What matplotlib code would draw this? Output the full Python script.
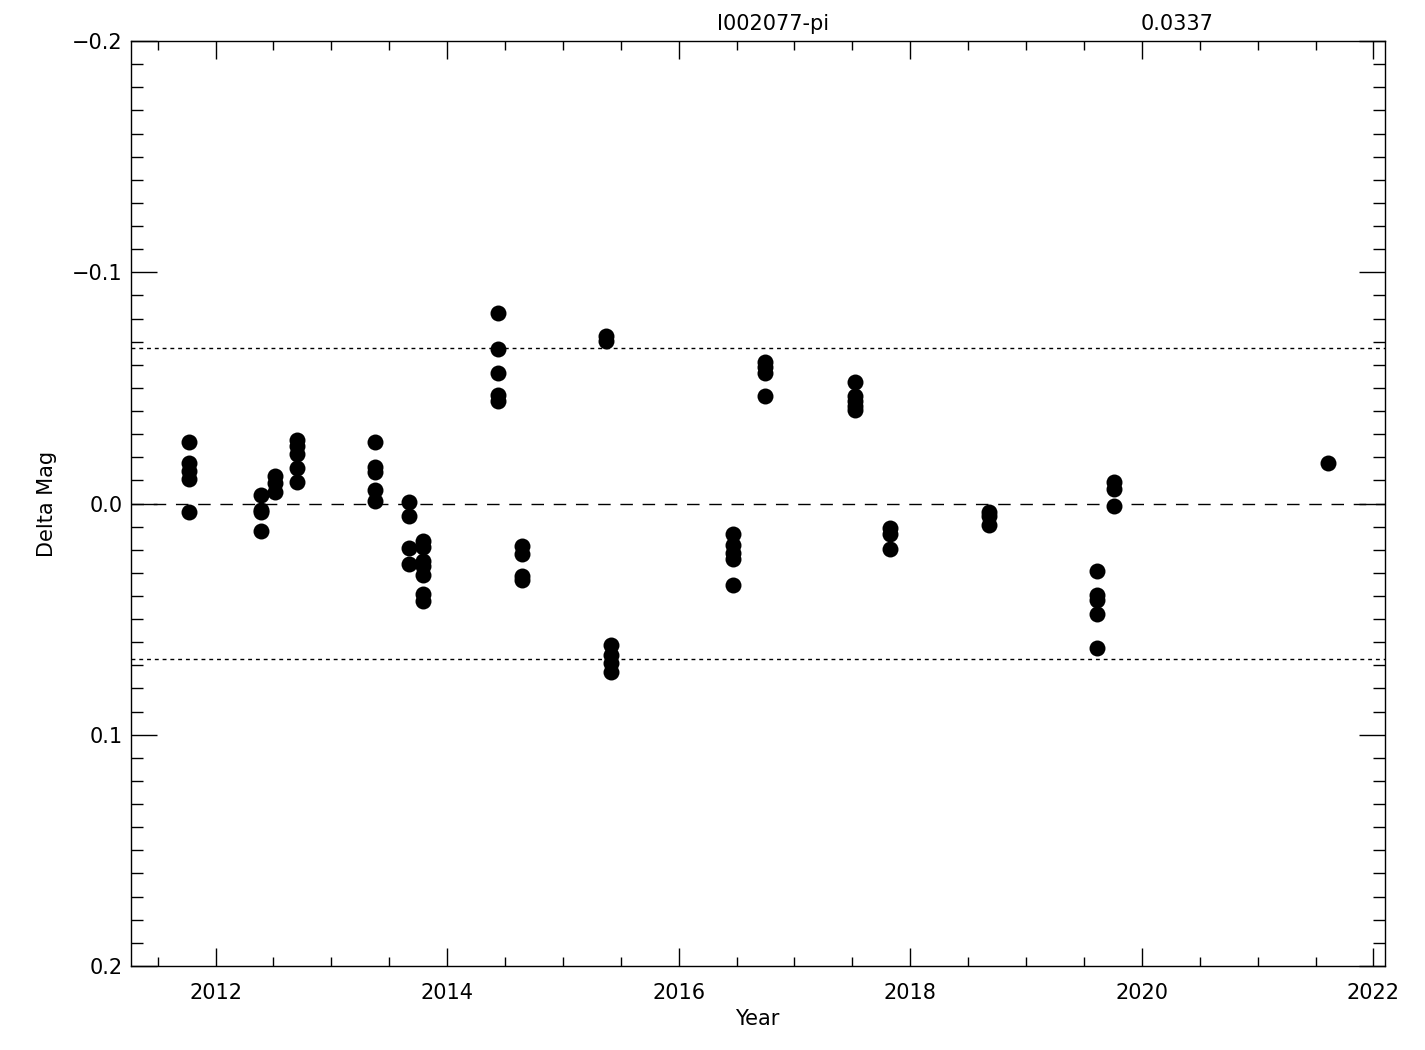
import numpy as np
import matplotlib
matplotlib.use('Agg')
import matplotlib.pyplot as plt
from matplotlib.ticker import MultipleLocator

# observing epochs (decimal year) and delta mags per epoch
epochs = [2011.771, 2012.393, 2012.514, 2012.700, 2013.378, 2013.674, 2013.793,
          2014.441, 2014.648, 2015.374, 2015.413, 2016.473, 2016.747, 2017.525,
          2017.821, 2018.676, 2019.613, 2019.756, 2021.609]
dmags = [
    [-0.0264, -0.0173, -0.0139, -0.0104, 0.0035],
    [-0.0035, 0.0026, 0.0035, 0.0120],
    [-0.0120, -0.0090, -0.0050],
    [-0.0273, -0.0247, -0.0212, -0.0152, -0.0091],
    [-0.0265, -0.0156, -0.0135, -0.0060, -0.0009],
    [-0.0008, 0.0052, 0.0192, 0.0260],
    [0.0160, 0.0190, 0.0250, 0.0270, 0.0310, 0.0390, 0.0420],
    [-0.0823, -0.0667, -0.0566, -0.0468, -0.0443],
    [0.0182, 0.0220, 0.0315, 0.0330],
    [-0.0724, -0.0703],
    [0.0610, 0.0654, 0.0688, 0.0727],
    [0.0134, 0.0178, 0.0212, 0.0238, 0.0351],
    [-0.0610, -0.0589, -0.0563, -0.0465],
    [-0.0525, -0.0463, -0.0442, -0.0420, -0.0403],
    [0.0104, 0.0134, 0.0195],
    [0.0035, 0.0052, 0.0095],
    [0.0293, 0.0394, 0.0416, 0.0476, 0.0623],
    [-0.0092, -0.0061, 0.0009],
    [-0.0176],
]
star = 'I002077-pi'
sigma = 0.0337

x = np.concatenate([[e]*len(d) for e, d in zip(epochs, dmags)])
y = np.concatenate(dmags)

plt.rcParams['font.family'] = 'DejaVu Sans'
fig = plt.figure(figsize=(14.25, 10.5), dpi=100)
ax = fig.add_axes([131/1425, 84/1050, 1254/1425, 925/1050])

ax.plot(x, y, 'o', color='black', markersize=11.5, markeredgewidth=0)
ax.axhline(0, color='black', lw=1.0, dashes=(9, 7))
ax.axhline(2*sigma, color='black', lw=1.0, dashes=(2.8, 2.8))
ax.axhline(-2*sigma, color='black', lw=1.0, dashes=(2.8, 2.8))

ax.set_xlim(2011.27, 2022.10)
ax.set_ylim(0.2, -0.2)
ax.xaxis.set_major_locator(MultipleLocator(2))
ax.xaxis.set_minor_locator(MultipleLocator(0.5))
ax.yaxis.set_major_locator(MultipleLocator(0.1))
ax.yaxis.set_minor_locator(MultipleLocator(0.01))
ax.tick_params(which='both', direction='in', top=True, right=True, labelsize=15, width=1.0)
ax.tick_params(axis='x', which='major', length=13, pad=12)
ax.tick_params(axis='x', which='minor', length=6.5)
ax.tick_params(axis='y', which='major', length=18.5, pad=6)
ax.tick_params(axis='y', which='minor', length=8.6)
for s in ax.spines.values():
    s.set_linewidth(1.0)

fig.text(757/1425, 1-1019/1050, 'Year', ha='center', va='center', fontsize=15)
fig.text(47/1425, 1-504/1050, 'Delta Mag', ha='center', va='center', rotation=90, fontsize=15)
fig.text(773/1425, 1-24/1050, star, ha='center', va='center', fontsize=15)
fig.text(1177/1425, 1-24/1050, '%.4f' % sigma, ha='center', va='center', fontsize=15)

fig.savefig('out.png', dpi=100)
